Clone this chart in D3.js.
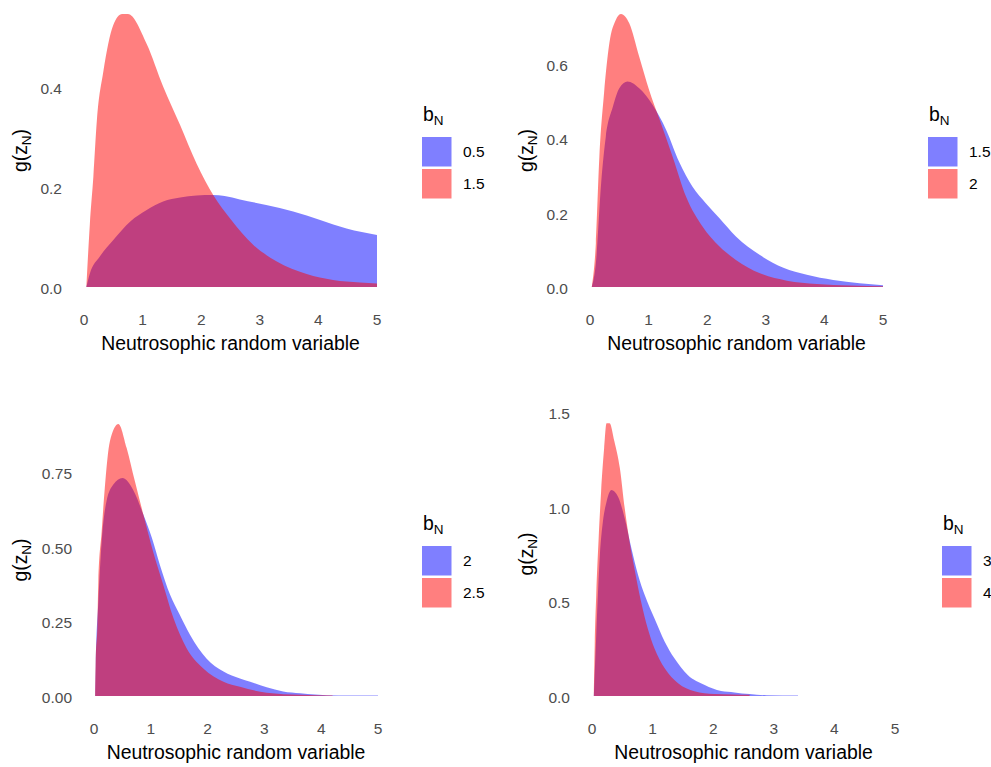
<!DOCTYPE html>
<html>
<head>
<meta charset="utf-8">
<script src="https://cdn.jsdelivr.net/npm/d3@7"></script>
<style>
  body { margin: 0; background: #fff; }
  svg { display: block; font-family: 'Liberation Sans', Arial, sans-serif; }
</style>
</head>
<body>
<svg id="chart"></svg>
<script>
// shared x axis
const xTicks = [0, 1, 2, 3, 4, 5];
const xTitle = 'Neutrosophic random variable';

// panel 1: b_N = 0.5 (blue) vs 1.5 (red)  -- [z, g(z)]
const p1Levels = ['0.5', '1.5'];
const p1Blue = [[0.04, 0], [0.1, 0.027], [0.27, 0.061], [0.5, 0.094], [0.79, 0.131], [1.07, 0.154],
  [1.35, 0.171], [1.64, 0.179], [1.92, 0.183], [2.2, 0.184], [2.4, 0.182], [2.66, 0.175],
  [3.11, 0.164], [3.57, 0.151], [4.03, 0.134], [4.48, 0.117], [5, 0.104]];
const p1Red = [[0.04, 0], [0.1, 0.126], [0.16, 0.221], [0.22, 0.334], [0.33, 0.431], [0.5, 0.524],
  [0.65, 0.546], [0.75, 0.546], [1.07, 0.486], [1.35, 0.401], [1.64, 0.324], [1.92, 0.247],
  [2.21, 0.183], [2.5, 0.136], [2.89, 0.084], [3.29, 0.051], [3.8, 0.026], [4.25, 0.014],
  [4.71, 0.009], [5, 0.007]];
const p1YTicks = [0, 0.2, 0.4];
const p1YLabels = ['0.0', '0.2', '0.4'];

// panel 2: b_N = 1.5 vs 2
const p2Levels = ['1.5', '2'];
const p2Blue = [[0.03, 0], [0.1, 0.064], [0.19, 0.279], [0.27, 0.405], [0.39, 0.485], [0.5, 0.535],
  [0.64, 0.553], [0.84, 0.535], [1.07, 0.49], [1.3, 0.423], [1.52, 0.337], [1.75, 0.27],
  [1.98, 0.225], [2.21, 0.185], [2.49, 0.136], [2.9, 0.086], [3.3, 0.052], [3.7, 0.033],
  [4.15, 0.019], [4.6, 0.01], [5, 0.005]];
const p2Red = [[0.03, 0], [0.1, 0.118], [0.16, 0.351], [0.24, 0.522], [0.33, 0.656], [0.44, 0.719],
  [0.53, 0.735], [0.67, 0.71], [0.84, 0.62], [1.01, 0.53], [1.18, 0.454], [1.41, 0.351],
  [1.64, 0.243], [1.92, 0.163], [2.21, 0.109], [2.49, 0.073], [2.9, 0.037], [3.36, 0.017],
  [3.87, 0.008], [4.44, 0.004], [5, 0.002]];
const p2YTicks = [0, 0.2, 0.4, 0.6];
const p2YLabels = ['0.0', '0.2', '0.4', '0.6'];

// panel 3: b_N = 2 vs 2.5
const p3Levels = ['2', '2.5'];
const p3Blue = [[0.02, 0], [0.03, 0.1], [0.076, 0.316], [0.135, 0.518], [0.22, 0.652], [0.34, 0.708],
  [0.5, 0.73], [0.69, 0.69], [0.87, 0.607], [1.02, 0.529], [1.16, 0.439], [1.34, 0.339],
  [1.51, 0.272], [1.69, 0.205], [1.98, 0.126], [2.28, 0.082], [2.57, 0.059], [2.75, 0.048],
  [3.04, 0.029], [3.33, 0.015], [3.63, 0.009], [3.89, 0.005], [4.3, 0.002], [5, 0.002]];
const p3Red = [[0.02, 0], [0.03, 0.12], [0.06, 0.238], [0.076, 0.383], [0.135, 0.551], [0.19, 0.697],
  [0.28, 0.853], [0.43, 0.911], [0.575, 0.831], [0.72, 0.719], [0.87, 0.607], [1.04, 0.484],
  [1.22, 0.372], [1.4, 0.26], [1.63, 0.16], [1.92, 0.093], [2.28, 0.048], [2.57, 0.031],
  [3.04, 0.011], [3.63, 0.004], [4.2, 0.002]];
const p3YTicks = [0, 0.25, 0.5, 0.75];
const p3YLabels = ['0.00', '0.25', '0.50', '0.75'];

// panel 4: b_N = 3 vs 4
const p4Levels = ['3', '4'];
const p4Blue = [[0.03, 0], [0.07, 0.322], [0.13, 0.744], [0.18, 0.921], [0.24, 1.026], [0.32, 1.088],
  [0.43, 1.053], [0.54, 0.939], [0.65, 0.78], [0.76, 0.639], [0.87, 0.533], [1.03, 0.41],
  [1.2, 0.287], [1.36, 0.199], [1.58, 0.111], [1.86, 0.058], [2.13, 0.026], [2.35, 0.019],
  [2.6, 0.01], [2.88, 0.004], [3.4, 0.003]];
const p4Red = [[0.03, 0], [0.045, 0.269], [0.07, 0.534], [0.11, 0.834], [0.15, 1.079], [0.2, 1.308],
  [0.24, 1.44], [0.29, 1.44], [0.37, 1.344], [0.46, 1.203], [0.54, 0.991], [0.62, 0.815],
  [0.7, 0.674], [0.81, 0.498], [0.92, 0.357], [1.03, 0.252], [1.2, 0.146], [1.42, 0.067],
  [1.69, 0.025], [2.02, 0.01], [2.33, 0.008], [2.6, 0.006]];
const p4YTicks = [0, 0.5, 1.0, 1.5];
const p4YLabels = ['0.0', '0.5', '1.0', '1.5'];

const width = 991;
const height = 767;

const panels = [
  { blue: p1Blue, red: p1Red, levels: p1Levels, yTicks: p1YTicks, yLabels: p1YLabels, yMax: 0.546,
    left: 84, right: 377, bottom: 287, top: 14, titleX: 21, legendX: 422 },
  { blue: p2Blue, red: p2Red, levels: p2Levels, yTicks: p2YTicks, yLabels: p2YLabels, yMax: 0.735,
    left: 590, right: 883, bottom: 287, top: 14, titleX: 527, legendX: 928 },
  { blue: p3Blue, red: p3Red, levels: p3Levels, yTicks: p3YTicks, yLabels: p3YLabels, yMax: 0.911,
    left: 94, right: 378, bottom: 696, top: 424, titleX: 21, legendX: 422 },
  { blue: p4Blue, red: p4Red, levels: p4Levels, yTicks: p4YTicks, yLabels: p4YLabels, yMax: 1.5,
    left: 592, right: 895, bottom: 696, top: 412, titleX: 527, legendX: 942 }
];

const fills = ['#0000ff', '#ff0000'];

const svg = d3.select('#chart')
  .attr('width', width)
  .attr('height', height);

svg.append('rect')
  .attr('width', width)
  .attr('height', height)
  .attr('fill', '#fff');

panels.forEach(p => {
  const x = d3.scaleLinear()
    .domain([0, 5])
    .range([p.left, p.right]);

  const y = d3.scaleLinear()
    .domain([0, p.yMax])
    .range([p.bottom, p.top]);

  const area = d3.area()
    .x(d => x(d[0]))
    .y0(y(0))
    .y1(d => y(d[1]))
    .curve(d3.curveMonotoneX);

  const g = svg.append('g');

  // blue first, red drawn over it
  g.selectAll('path.dens')
    .data([p.blue, p.red])
    .join('path')
    .attr('class', 'dens')
    .attr('fill', (d, i) => fills[i])
    .attr('fill-opacity', 0.5)
    .attr('d', area);

  // x tick labels
  g.append('g')
    .attr('font-size', 15.5)
    .attr('fill', '#4d4d4d')
    .attr('text-anchor', 'middle')
    .selectAll('text')
    .data(xTicks)
    .join('text')
    .attr('x', d => x(d))
    .attr('y', p.bottom + 38)
    .text(d => d);

  // y tick labels
  g.append('g')
    .attr('font-size', 15.5)
    .attr('fill', '#4d4d4d')
    .attr('text-anchor', 'end')
    .selectAll('text')
    .data(p.yTicks)
    .join('text')
    .attr('x', p.left - 22)
    .attr('y', d => y(d))
    .attr('dy', '0.45em')
    .text((d, i) => p.yLabels[i]);

  // axis titles
  g.append('text')
    .attr('x', (p.left + p.right) / 2)
    .attr('y', p.bottom + 62.5)
    .attr('text-anchor', 'middle')
    .attr('font-size', 19.4)
    .attr('fill', '#000')
    .text(xTitle);

  const yt = g.append('text')
    .attr('transform', `translate(${p.titleX + 6},${(p.top + p.bottom) / 2}) rotate(-90)`)
    .attr('text-anchor', 'middle')
    .attr('font-size', 19.4)
    .attr('fill', '#000');
  yt.append('tspan').text('g(z');
  yt.append('tspan').attr('dy', 4).attr('font-size', 13.5).text('N');
  yt.append('tspan').attr('dy', -4).text(')');

  // legend
  const keyTop = p.bottom === 287 ? 137 : 546;
  const lg = g.append('g');

  const lt = lg.append('text')
    .attr('x', p.legendX + 1)
    .attr('y', keyTop - 16.5)
    .attr('font-size', 19.4)
    .attr('fill', '#000');
  lt.append('tspan').text('b');
  lt.append('tspan').attr('dy', 4).attr('font-size', 13.5).text('N');

  lg.selectAll('rect')
    .data(p.levels)
    .join('rect')
    .attr('x', p.legendX)
    .attr('y', (d, i) => keyTop + i * 32)
    .attr('width', 29.5)
    .attr('height', 29.5)
    .attr('fill', (d, i) => fills[i])
    .attr('fill-opacity', 0.5);

  lg.selectAll('text.lab')
    .data(p.levels)
    .join('text')
    .attr('class', 'lab')
    .attr('x', p.legendX + 41)
    .attr('y', (d, i) => keyTop + i * 32 + 14.75)
    .attr('dy', '0.36em')
    .attr('font-size', 15.5)
    .attr('fill', '#000')
    .text(d => d);
});
</script>
</body>
</html>
